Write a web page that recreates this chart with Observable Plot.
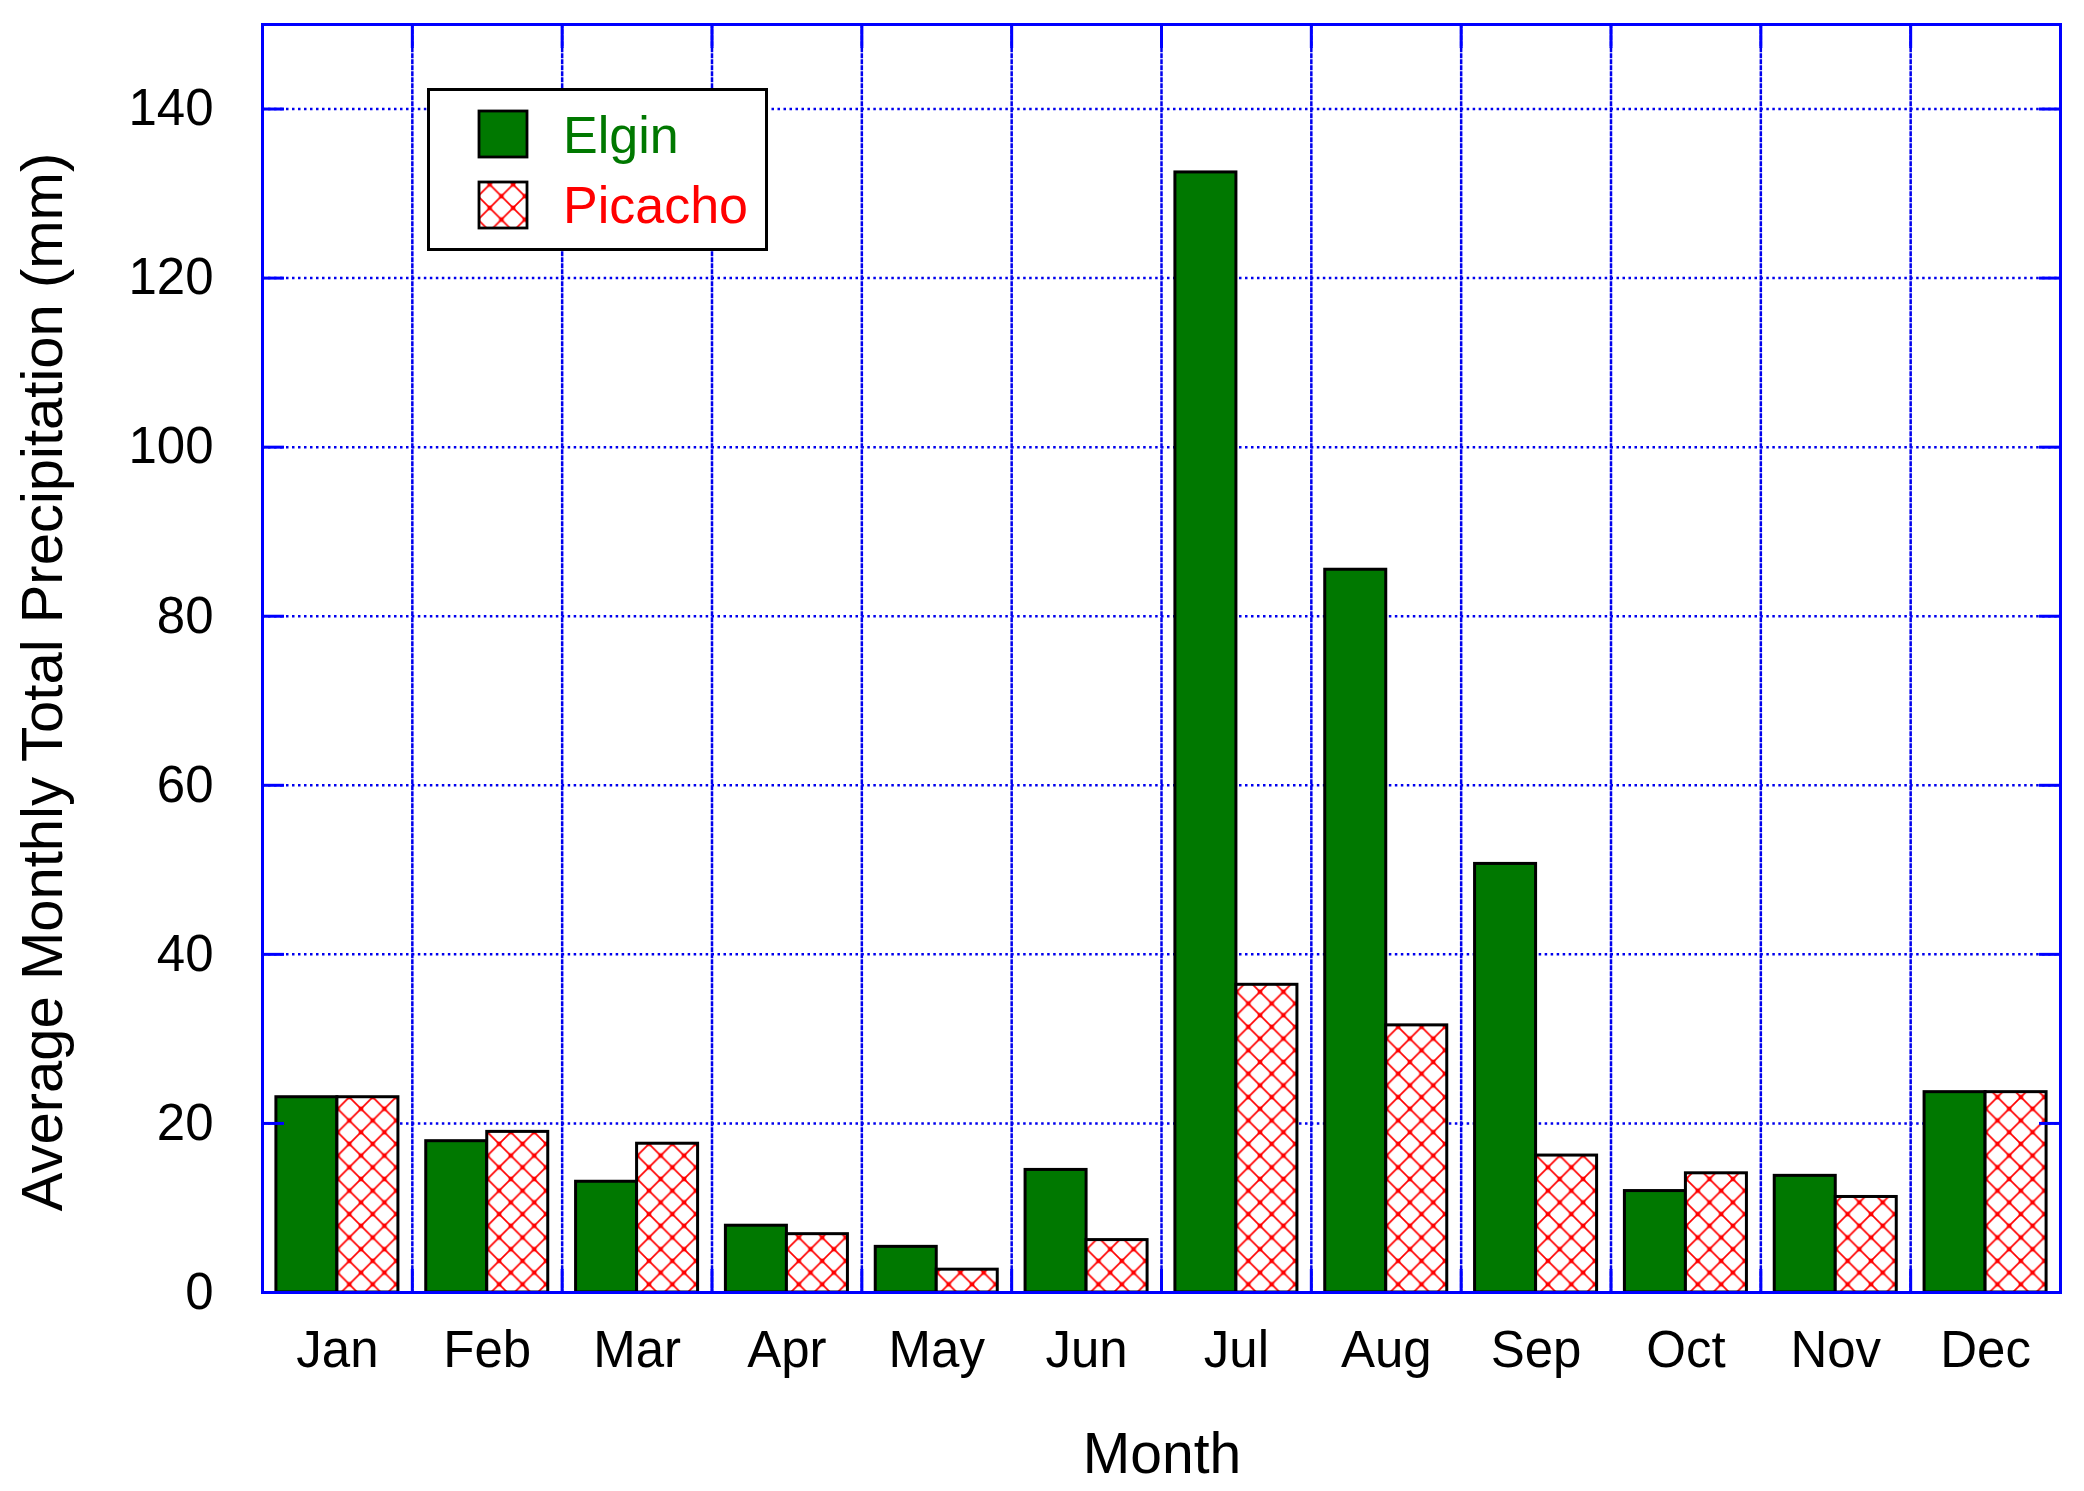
<!DOCTYPE html>
<html><head><meta charset="utf-8">
<script src="https://cdn.jsdelivr.net/npm/d3@7"></script>
<script src="https://cdn.jsdelivr.net/npm/@observablehq/plot@0.6"></script>
<style>
html,body{margin:0;padding:0;background:#fff;}
#wrap{position:relative;width:2084px;height:1491px;}
#wrap svg{position:absolute;left:0;top:0;}
#wrap svg.overlay{pointer-events:none;}
</style></head><body><div id="wrap"></div>
<script>
const months = ["Jan","Feb","Mar","Apr","May","Jun","Jul","Aug","Sep","Oct","Nov","Dec"];
const elgin   = [23.1, 17.9, 13.1, 7.9, 5.4, 14.5, 132.5, 85.5, 50.7, 12.0, 13.8, 23.7];
const picacho = [23.1, 19.0, 17.6, 6.9, 2.7, 6.2, 36.4, 31.6, 16.2, 14.1, 11.3, 23.7];
const series = ["Elgin", "Picacho"];
const yTicks = [0, 20, 40, 60, 80, 100, 120, 140];
const yDomain = [0, 150];
const xTitle = "Month";
const yTitle = "Average Monthly Total Precipitation (mm)";

const data = months.flatMap((m, i) => [
  {month: m, series: "Elgin", value: elgin[i]},
  {month: m, series: "Picacho", value: picacho[i]}
]);

const FONT = '"Liberation Sans", Arial, sans-serif';
const BLUE = "#0000ff", GREEN = "#007800", RED = "#ff0000";
const W = 2084, H = 1491, mL = 262, mR = 24, mT = 24, mB = 199;
const innerH = H - mT - mB;
const tick = 22;
const dotted = {stroke: "#0000ee", strokeWidth: 2.5, strokeDasharray: "2.5,3.5"};
const solid = {stroke: BLUE, strokeWidth: 3};

const chart = Plot.plot({
  width: W, height: H,
  marginLeft: mL, marginRight: mR, marginTop: mT, marginBottom: mB,
  style: {background: "white", color: "black", fontFamily: FONT},
  fx: {domain: months, padding: 0, round: false},
  x: {domain: series, axis: null, paddingInner: 0, paddingOuter: 0.228, round: false},
  y: {domain: yDomain},
  marks: [
    Plot.ruleY(yTicks.filter(v => v > 0), {...dotted}),
    Plot.frame({anchor: "left", ...dotted}),
    Plot.barY(data, {filter: d => d.series === "Elgin", fx: "month", x: "series", y: "value",
      fill: GREEN, stroke: "black", strokeWidth: 3}),
    Plot.barY(data, {filter: d => d.series === "Picacho", fx: "month", x: "series", y: "value",
      fill: "url(#hatch)", stroke: "black", strokeWidth: 3}),
    Plot.frame({anchor: "left", insetTop: innerH - tick, ...solid}),
    Plot.frame({anchor: "left", insetBottom: innerH - tick, ...solid}),
    Plot.frame({anchor: "top", ...solid}),
    Plot.frame({anchor: "bottom", ...solid}),
    Plot.frame({anchor: "left", facetAnchor: "left", ...solid}),
    Plot.frame({anchor: "right", facetAnchor: "right", ...solid}),
    Plot.axisY({ticks: yTicks, anchor: "left", tickSize: -tick, tickFormat: () => "", label: null, ...solid}),
    Plot.axisY({ticks: yTicks, anchor: "right", tickSize: -tick, tickFormat: () => "", label: null, ...solid}),
    Plot.axisY({ticks: yTicks, anchor: "left", tickSize: 0, tickPadding: 49, fontSize: 51, label: null}),
    Plot.axisFx({anchor: "bottom", tickSize: 0, tickPadding: 38, fontSize: 51, label: null})
  ]
});

const patternHTML = (id) => `
  <pattern id="${id}" patternUnits="userSpaceOnUse" x="10" y="9" width="23.4" height="23.4">
    <rect width="23.4" height="23.4" fill="white"/>
    <path d="M0,0L23.4,23.4M23.4,0L0,23.4" stroke="${RED}" stroke-width="1.7" fill="none"/>
    <rect x="9.45" y="9.45" width="4.5" height="4.5" fill="${RED}"/>
    <rect x="-2.25" y="-2.25" width="4.5" height="4.5" fill="${RED}"/>
    <rect x="21.15" y="-2.25" width="4.5" height="4.5" fill="${RED}"/>
    <rect x="-2.25" y="21.15" width="4.5" height="4.5" fill="${RED}"/>
    <rect x="21.15" y="21.15" width="4.5" height="4.5" fill="${RED}"/>
  </pattern>`;

d3.select(chart).insert("defs", ":first-child").html(patternHTML("hatch"));

const wrap = document.getElementById("wrap");
wrap.appendChild(chart);

// overlay: legend and axis titles
const ov = d3.create("svg").attr("class", "overlay")
  .attr("width", W).attr("height", H)
  .style("font-family", FONT);
ov.append("defs").html(patternHTML("hatch2"));

const lg = ov.append("g");
lg.append("rect").attr("x", 428.5).attr("y", 89.5).attr("width", 338).attr("height", 160)
  .attr("fill", "white").attr("stroke", "black").attr("stroke-width", 3);
const colors = [GREEN, RED];
const fills = [GREEN, "url(#hatch2)"];
series.forEach((s, i) => {
  const top = 111 + i * 71;
  lg.append("rect").attr("x", 479).attr("y", top).attr("width", 48).attr("height", 46)
    .attr("fill", fills[i]).attr("stroke", "black").attr("stroke-width", 2.8);
  lg.append("text").attr("x", 563).attr("y", 153 + i * 70)
    .attr("font-size", 52).attr("fill", colors[i]).text(s);
});

ov.append("text").attr("x", 1162).attr("y", 1473).attr("text-anchor", "middle")
  .attr("font-size", 57).attr("fill", "black").text(xTitle);
ov.append("text").attr("transform", "translate(62,682) rotate(-90)").attr("text-anchor", "middle")
  .attr("font-size", 58).attr("fill", "black").text(yTitle);

wrap.appendChild(ov.node());
</script></body></html>
